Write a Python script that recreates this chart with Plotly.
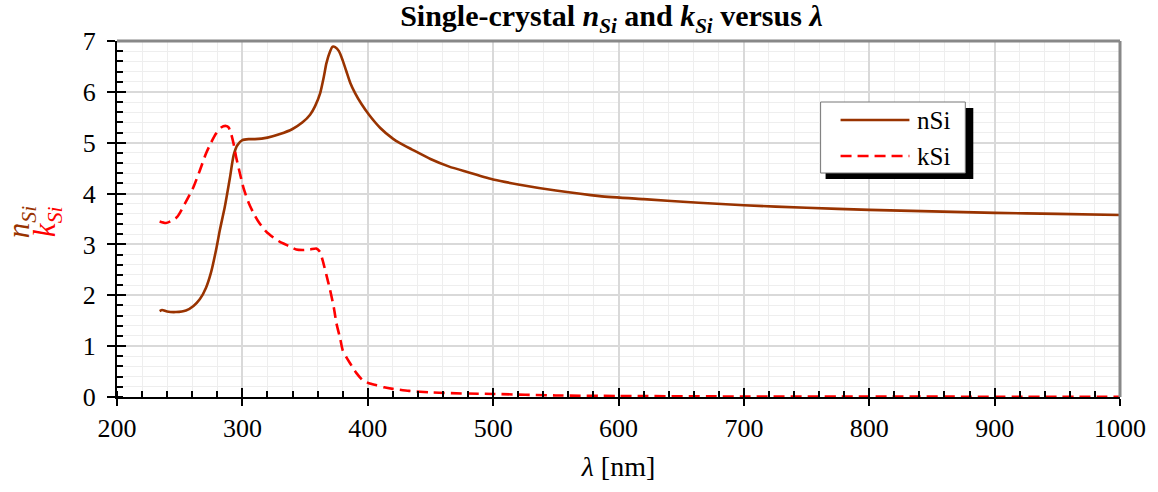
import plotly.graph_objects as go

# nSi data (wavelength nm, n)
lam_n = [234, 236, 240, 247, 255, 261, 266, 271, 275, 279, 282, 286, 290, 293, 296, 300, 305,
         310, 320, 330, 340, 348, 354, 358, 362, 365, 367, 370, 372, 374, 377, 380, 383, 386,
         390, 395, 401, 410, 420, 425, 435, 450, 465, 480, 501, 520, 550, 585, 620, 664,
         700, 750, 800, 850, 900, 950, 1000]
n_si = [1.69, 1.71, 1.68, 1.67, 1.70, 1.79, 1.92, 2.15, 2.45, 2.89, 3.28, 3.74, 4.30, 4.75, 4.95, 5.05, 5.07,
        5.07, 5.10, 5.17, 5.27, 5.40, 5.55, 5.72, 5.97, 6.30, 6.56, 6.80, 6.89, 6.88, 6.80, 6.62, 6.40, 6.18,
        5.97, 5.76, 5.55, 5.29, 5.08, 5.00, 4.87, 4.68, 4.53, 4.42, 4.27, 4.18, 4.06, 3.95, 3.89, 3.82,
        3.77, 3.72, 3.68, 3.65, 3.62, 3.60, 3.58]

# kSi data (wavelength nm, k)
lam_k = [234, 239, 243, 248, 255, 261, 266, 271, 275, 279, 283, 287, 289, 291, 293, 295,
         298, 301, 305, 309, 313, 319, 325, 330, 337, 343, 348, 354, 359, 362, 364, 367,
         370, 373, 375, 378, 380, 383, 386, 391, 396, 401, 407, 413, 420, 433, 450, 475,
         500, 550, 600, 700, 800, 900, 1000]
k_si = [3.45, 3.42, 3.46, 3.54, 3.84, 4.13, 4.45, 4.79, 5.00, 5.18, 5.30, 5.33, 5.30, 5.18, 4.98, 4.72,
        4.40, 4.10, 3.82, 3.61, 3.44, 3.25, 3.13, 3.05, 2.97, 2.90, 2.89, 2.90, 2.92, 2.85, 2.69, 2.40,
        2.10, 1.75, 1.45, 1.15, 0.92, 0.78, 0.66, 0.47, 0.33, 0.27, 0.23, 0.19, 0.16, 0.12, 0.09, 0.07,
        0.06, 0.03, 0.02, 0.01, 0.01, 0.005, 0.005]

x_ticks = [200, 300, 400, 500, 600, 700, 800, 900, 1000]
y_ticks = [0, 1, 2, 3, 4, 5, 6, 7]
series_names = ["nSi", "kSi"]

FONT = "Liberation Serif"
BROWN = "#993300"
RED = "#FF0000"
DASH = "11px,6px"

# plot-area pixel geometry (for legend decoration placement)
L, R, T, B = 117, 1122, 41, 397
def px(x): return (x - L) / (R - L)
def py(y): return (B - y) / (B - T)

fig = go.Figure()
fig.add_trace(go.Scatter(x=lam_n, y=n_si, mode="lines", name=series_names[0],
                         line=dict(color=BROWN, width=2.6, shape="spline", smoothing=0.6)))
fig.add_trace(go.Scatter(x=lam_k, y=k_si, mode="lines", name=series_names[1],
                         line=dict(color=RED, width=2.6, dash=DASH, shape="spline", smoothing=0.6)))
# invisible trace to activate overlay axes (inside major ticks)
fig.add_trace(go.Scatter(x=[200], y=[0], xaxis="x2", yaxis="y2", mode="markers",
                         marker=dict(opacity=0), hoverinfo="skip", showlegend=False))

tickfont = dict(family=FONT, size=26, color="black")
fig.update_layout(
    width=1158, height=492,
    margin=dict(l=L, r=1158 - R, t=T, b=492 - B),
    paper_bgcolor="white", plot_bgcolor="white",
    font=dict(family=FONT, size=24, color="black"),
    showlegend=False,
    title=dict(text="<b>Single-crystal <i>n</i><sub><i>Si</i></sub> and <i>k</i><sub><i>Si</i></sub> versus <i>λ</i></b>",
               x=0.528, xanchor="center", y=0.968, yanchor="middle",
               font=dict(family=FONT, size=30, color="black")),
    xaxis=dict(range=[200, 1000], tickvals=x_ticks, ticktext=[str(v) for v in x_ticks],
               showline=True, linecolor="black", linewidth=2,
               ticks="outside", ticklen=7, tickcolor="black", tickwidth=1.5,
               showgrid=True, gridcolor="#d9d9d9", gridwidth=1.5, zeroline=False,
               minor=dict(dtick=20, ticks="inside", ticklen=6, tickcolor="black",
                          showgrid=True, gridcolor="#eeeeee", gridwidth=1),
               title=dict(text="<i>λ</i> [nm]", font=dict(family=FONT, size=28), standoff=14),
               tickfont=tickfont),
    yaxis=dict(range=[0, 7], tickvals=y_ticks, ticktext=[str(v) for v in y_ticks],
               showline=True, linecolor="black", linewidth=2,
               ticks="outside", ticklen=8, tickcolor="black", tickwidth=1.5,
               showgrid=True, gridcolor="#d9d9d9", gridwidth=1.5, zeroline=False,
               minor=dict(dtick=0.2, ticks="inside", ticklen=6, tickcolor="black",
                          showgrid=True, gridcolor="#eeeeee", gridwidth=1),
               tickfont=tickfont, ticklabelstandoff=6),
    xaxis2=dict(range=[200, 1000], overlaying="x", tickvals=x_ticks, ticks="inside",
                ticklen=9, tickwidth=1.5, tickcolor="black", showticklabels=False,
                showgrid=False, zeroline=False, showline=False),
    yaxis2=dict(range=[0, 7], overlaying="y", tickvals=y_ticks, ticks="inside",
                ticklen=9, tickwidth=1.5, tickcolor="black", showticklabels=False,
                showgrid=False, zeroline=False, showline=False),
)

# gray top/right frame
fig.add_shape(type="line", xref="x domain", yref="y domain", x0=0, x1=1, y0=1, y1=1,
              line=dict(color="#888888", width=3), layer="above")
fig.add_shape(type="line", xref="x domain", yref="y domain", x0=1, x1=1, y0=0, y1=1,
              line=dict(color="#888888", width=3), layer="above")

# legend: shadow, box, line samples, labels
fig.add_shape(type="rect", xref="paper", yref="paper",
              x0=px(827), x1=px(975), y0=py(179), y1=py(108),
              fillcolor="black", line=dict(width=0), layer="above")
fig.add_shape(type="rect", xref="paper", yref="paper",
              x0=px(822), x1=px(967), y0=py(173), y1=py(102),
              fillcolor="white", line=dict(color="#777777", width=1), layer="above")
fig.add_shape(type="line", xref="paper", yref="paper",
              x0=px(842), x1=px(911), y0=py(120), y1=py(120),
              line=dict(color=BROWN, width=2.6), layer="above")
fig.add_shape(type="line", xref="paper", yref="paper",
              x0=px(842), x1=px(911), y0=py(156), y1=py(156),
              line=dict(color=RED, width=2.6, dash=DASH), layer="above")
for name, yy in zip(series_names, [120, 156]):
    fig.add_annotation(text=name, xref="paper", yref="paper", x=px(917), y=py(yy),
                       xanchor="left", yanchor="middle", showarrow=False,
                       font=dict(family=FONT, size=25, color="black"))

# y-axis labels
fig.add_annotation(text="<i>n</i><sub><i>Si</i></sub>", xref="paper", yref="paper",
                   x=px(21), y=py(222), xanchor="center", yanchor="middle",
                   textangle=-90, showarrow=False,
                   font=dict(family=FONT, size=31, color=BROWN))
fig.add_annotation(text="<i>k</i><sub><i>Si</i></sub>", xref="paper", yref="paper",
                   x=px(47), y=py(222), xanchor="center", yanchor="middle",
                   textangle=-90, showarrow=False,
                   font=dict(family=FONT, size=31, color=RED))

fig.write_html("out.html")
